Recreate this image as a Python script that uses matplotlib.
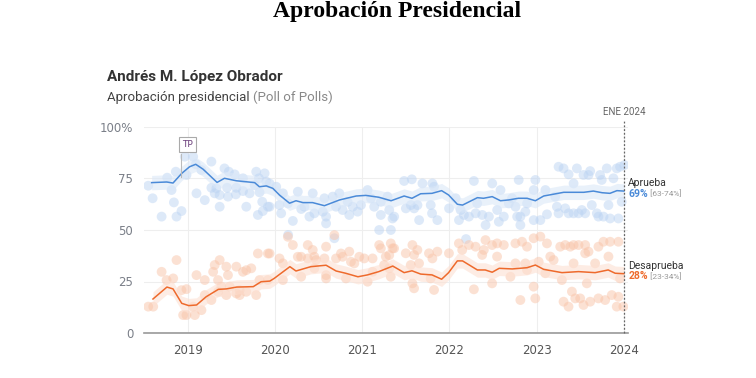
import matplotlib.pyplot as plt
import numpy as np

# trend lines (year, %)
ap_year = [2018.585, 2018.757, 2018.83, 2018.93, 2019.02, 2019.09, 2019.175, 2019.335, 2019.42,
           2019.556, 2019.766, 2019.82, 2019.9, 2019.975, 2020.05, 2020.166, 2020.24, 2020.32,
           2020.43, 2020.566, 2020.74, 2020.93, 2021.04, 2021.19, 2021.33, 2021.48, 2021.57,
           2021.67, 2021.80, 2021.91, 2021.99, 2022.09, 2022.15, 2022.32, 2022.39, 2022.49,
           2022.585, 2022.68, 2022.79, 2022.89, 2022.985, 2023.08, 2023.31, 2023.54, 2023.65,
           2023.75, 2023.84, 2023.92, 2024.0]
ap_val = [73.0, 73.3, 72.8, 77.5, 80.7, 81.9, 79.5, 73.1, 75.1,
          73.9, 73.0, 71.0, 71.4, 70.2, 67.0, 63.0, 64.2, 63.3,
          63.3, 61.8, 64.6, 66.5, 66.8, 65.9, 64.2, 66.5, 65.4,
          67.6, 67.8, 69.1, 67.0, 62.5, 62.1, 65.7, 65.4, 66.2,
          64.2, 64.6, 65.4, 65.4, 64.2, 66.5, 68.3, 68.3, 68.9,
          68.1, 67.8, 69.1, 68.9]

de_year = [2018.6, 2018.76, 2018.83, 2018.93, 2019.01, 2019.1, 2019.21, 2019.35, 2019.44,
           2019.56, 2019.75, 2019.84, 2019.94, 2019.99, 2020.17, 2020.24, 2020.41, 2020.585,
           2020.70, 2020.81, 2020.95, 2021.06, 2021.19, 2021.35, 2021.48, 2021.57, 2021.67,
           2021.80, 2021.91, 2021.99, 2022.09, 2022.15, 2022.32, 2022.41, 2022.49, 2022.57,
           2022.72, 2022.89, 2022.985, 2023.08, 2023.29, 2023.48, 2023.67, 2023.82, 2023.90,
           2024.0]
de_val = [16.5, 22.3, 21.4, 14.4, 13.3, 13.6, 17.6, 21.2, 21.4,
          22.3, 22.5, 24.9, 25.2, 26.5, 32.2, 30.1, 32.2, 32.9,
          30.1, 29.0, 27.3, 28.2, 29.8, 32.5, 29.3, 30.2, 28.6,
          28.2, 26.1, 29.3, 35.0, 35.0, 30.6, 30.6, 29.5, 31.4,
          31.1, 31.7, 33.0, 30.9, 29.3, 29.8, 29.3, 30.6, 29.0,
          28.8]

# individual polls
ap_poll_year = [2018.546, 2018.596, 2018.699, 2018.763, 2018.813, 2018.840, 2018.870, 2018.862, 2018.927,
                2018.965, 2018.984, 2019.061, 2019.099, 2019.091, 2019.156, 2019.194, 2019.27, 2019.27,
                2019.308, 2019.327, 2019.365, 2019.365, 2019.42, 2019.45, 2019.47, 2019.46, 2019.537,
                2019.556, 2019.55, 2019.632, 2019.632, 2019.67, 2019.708, 2019.765, 2019.784, 2019.815,
                2019.822, 2019.803, 2019.853, 2019.86, 2019.899, 2019.918,
                2019.88, 2019.937, 2020.013, 2020.09, 2019.937, 2020.05, 2020.07, 2020.147, 2020.204,
                2020.261, 2020.30, 2020.337, 2020.394, 2020.432, 2020.451, 2020.547, 2020.566, 2020.585,
                2020.585, 2020.661, 2020.699, 2020.737, 2020.775, 2020.832, 2020.851, 2020.89, 2020.947,
                2020.985, 2021.061, 2021.099, 2021.137, 2021.213, 2021.213, 2021.29, 2021.309, 2021.347,
                2021.194, 2021.328, 2020.15, 2020.68, 2022.19,
                2021.48, 2021.568, 2021.69, 2021.804, 2021.823, 2021.366, 2021.50, 2021.557,
                2021.595, 2021.633, 2021.652, 2021.785, 2021.80, 2021.861, 2021.995, 2022.071, 2022.109,
                2022.128, 2022.166, 2022.223, 2022.28, 2022.30, 2022.318, 2022.376, 2022.414, 2022.452,
                2022.49, 2022.547, 2022.566, 2022.585, 2022.623, 2022.68, 2022.718, 2022.757, 2022.776,
                2022.794, 2022.985, 2022.966, 2023.10, 2022.813, 2022.87, 2022.89, 2022.813, 2022.966,
                2023.042, 2023.118, 2023.213, 2023.232, 2023.251, 2023.308, 2023.327, 2023.251, 2023.366,
                2023.366, 2023.423, 2023.423, 2023.461, 2023.48, 2023.518, 2023.537, 2023.556, 2023.594,
                2023.613, 2023.632, 2023.69, 2023.708, 2023.727, 2023.746, 2023.766, 2023.804, 2023.823,
                2023.842, 2023.88, 2023.918, 2023.937, 2023.956, 2024.005, 2023.975]
ap_poll_val = [71.5, 65.4, 56.5, 75.4, 69.4, 63.4, 56.5, 78.3, 59.2,
               85.6, 76.7, 85.6, 67.8, 81.9, 79.1, 64.5, 83.2, 70.5,
               67.8, 70.2, 61.3, 67.0, 79.9, 70.5, 78.3, 66.2, 77.0,
               70.5, 67.3, 75.1, 68.9, 61.3, 67.8, 71.8, 78.3, 75.1,
               68.3, 57.3, 63.7, 59.2, 73.5, 61.3,
               77.5, 72.6, 71.0, 67.8, 61.3, 62.1, 58.1, 62.9, 54.4,
               68.6, 60.2, 61.3, 56.5, 67.8, 58.1, 58.9, 65.4, 53.2,
               56.5, 66.2, 61.3, 67.8, 59.7, 63.7, 57.3, 61.3, 58.9,
               62.1, 69.4, 65.4, 61.3, 63.7, 57.3, 66.2, 59.7, 55.6,
               50.0, 50.0, 47.6, 46.0, 45.6,
               73.8, 74.6, 72.6, 72.6, 71.0, 56.5, 60.5, 62.1,
               60.5, 62.1, 54.8, 62.1, 58.1, 54.8, 60.5, 65.4, 54.8,
               59.7, 57.3, 56.5, 73.8, 58.1, 62.9, 57.3, 52.4, 56.5,
               72.6, 59.7, 54.0, 69.4, 56.5, 62.9, 65.4, 61.3, 56.5,
               74.3, 74.3, 69.4, 69.4, 56.5, 58.9, 62.9, 52.4, 54.8,
               54.8, 57.6, 66.2, 61.3, 80.7, 79.9, 60.5, 58.1, 77.0,
               58.1, 72.6, 58.1, 79.9, 58.1, 59.7, 76.7, 58.1, 76.7,
               78.6, 62.1, 58.1, 56.5, 76.7, 74.3, 56.5, 79.9, 62.1,
               55.6, 75.1, 79.9, 55.6, 80.7, 81.5, 63.7]

de_poll_year = [2018.546, 2018.603, 2018.699, 2018.756, 2018.832, 2018.87, 2018.927, 2018.984, 2018.946,
                2018.984, 2019.08, 2019.099, 2019.06, 2019.156, 2019.194, 2019.194, 2019.27, 2019.29,
                2019.308, 2019.346, 2019.365, 2019.346, 2019.384, 2019.441, 2019.441, 2019.46, 2019.556,
                2019.556, 2019.48, 2019.594, 2019.594, 2019.632, 2019.67, 2019.67, 2019.727, 2019.784,
                2019.803, 2019.822, 2019.918, 2019.918,
                2019.937, 2020.051, 2020.09, 2020.09, 2020.147, 2020.204, 2020.261, 2020.299, 2020.299,
                2020.375, 2020.375, 2020.432, 2020.451, 2020.451, 2020.47, 2020.566, 2020.585, 2020.585,
                2020.585, 2020.68, 2020.699, 2020.756, 2020.775, 2020.813, 2020.851, 2020.87, 2020.909,
                2020.966, 2021.023, 2021.061, 2021.118, 2021.118, 2021.194, 2021.213, 2021.251, 2021.309,
                2021.309, 2021.347,
                2021.327, 2021.365, 2021.27, 2021.327, 2021.499, 2021.575, 2021.594, 2021.632, 2021.556,
                2021.575, 2021.651, 2021.594, 2021.765, 2021.804, 2021.784, 2021.823, 2021.861, 2021.994,
                2022.108, 2022.146, 2022.223, 2022.299, 2022.28, 2022.375, 2022.413, 2022.394, 2022.489,
                2022.546, 2022.623, 2022.546, 2022.489, 2022.756, 2022.832, 2022.889, 2022.965, 2023.042,
                2022.813, 2022.87, 2022.965, 2022.984, 2023.118, 2023.156, 2023.194, 2023.27, 2023.327,
                2023.385, 2023.423, 2023.48, 2023.556, 2023.289, 2023.308, 2023.365, 2023.404, 2023.442,
                2023.499, 2023.537, 2023.575, 2023.594, 2023.708, 2023.766, 2023.842, 2023.937, 2023.613,
                2023.708, 2023.785, 2023.823, 2023.861, 2023.918, 2023.937, 2023.994, 2023.956, 2022.756,
                2022.889, 2023.023, 2023.423, 2023.556, 2023.67, 2022.699, 2023.099]
de_poll_val = [12.8, 12.8, 29.7, 25.7, 26.5, 35.4, 20.8, 21.3, 8.7,
               8.7, 8.7, 28.1, 12.8, 11.1, 25.7, 18.4, 16.0, 29.7,
               33.0, 25.7, 35.4, 20.0, 22.5, 32.2, 18.4, 28.1, 32.2,
               19.2, 22.5, 20.8, 18.4, 29.7, 30.5, 20.0, 31.4, 18.4,
               38.6, 25.7, 38.6, 25.7,
               38.6, 36.2, 33.8, 25.7, 46.7, 42.7, 37.0, 37.0, 27.3,
               42.7, 36.2, 40.3, 37.0, 31.4, 35.4, 36.2, 41.9, 28.1,
               26.5, 47.5, 36.2, 38.6, 37.0, 26.5, 39.5, 34.6, 33.8,
               37.0, 36.2, 24.9, 36.2, 29.7, 42.7, 41.1, 33.0, 37.8,
               31.4, 41.1,
               43.5, 41.1, 37.1, 27.3, 38.7, 42.7, 37.9, 40.3, 33.0,
               24.1, 33.8, 21.7, 38.7, 36.2, 26.5, 20.9, 39.5, 38.7,
               43.5, 40.3, 42.7, 41.9, 21.2, 37.9, 45.1, 40.3, 42.7,
               43.5, 42.7, 37.1, 24.1, 43.5, 44.3, 41.9, 46.0, 46.8,
               16.0, 33.8, 22.5, 16.8, 43.5, 37.1, 35.4, 41.9, 42.7,
               41.9, 42.7, 42.7, 42.7, 25.7, 15.2, 12.8, 20.1, 16.8,
               16.8, 13.6, 24.1, 39.5, 41.9, 44.3, 44.3, 44.3, 15.2,
               16.8, 16.0, 37.1, 18.4, 12.8, 17.6, 12.8, 26.5, 33.8,
               30.6, 34.6, 33.8, 38.7, 33.8, 27.3, 29.0]

year_ticks = [2019, 2020, 2021, 2022, 2023, 2024]
y_ticks = [0, 25, 50, 75, 100]
y_tick_labels = ['0', '25', '50', '75', '100%']

blue = '#4a8ad8'
orange = '#ee6a2c'

fig = plt.figure(figsize=(7.56, 3.78), dpi=100)
ax = fig.add_axes([144.25 / 756, 45 / 378, 484 / 756, 206 / 378])

ax.scatter(ap_poll_year, ap_poll_val, s=50, color='#bcd4f3', alpha=0.5, edgecolors='none', zorder=2)
ax.scatter(de_poll_year, de_poll_val, s=50, color='#f9c4a9', alpha=0.5, edgecolors='none', zorder=2)

ap = np.array(ap_val)
de = np.array(de_val)
ax.fill_between(ap_year, ap - 3.5, ap + 3.5, color='#dbe8f8', alpha=0.6, lw=0, zorder=3)
ax.fill_between(de_year, de - 3.5, de + 3.5, color='#fde0d2', alpha=0.6, lw=0, zorder=3)
ax.plot(ap_year, ap, color=blue, lw=1.1, zorder=4)
ax.plot(de_year, de, color=orange, lw=1.1, zorder=4)

ax.set_xlim(2018.5, 2024.05)
ax.set_ylim(0, 100)
ax.set_xticks(year_ticks)
ax.set_xticklabels([str(y) for y in year_ticks])
ax.set_yticks(y_ticks)
ax.set_yticklabels(y_tick_labels)
ax.tick_params(length=0, labelsize=8.5, colors='#555', pad=8)
ax.tick_params(axis='y', labelcolor='#7a7f88', labelsize=8.5)
ax.grid(True, color='#eeeeee', lw=0.8, zorder=0)
for s in ['top', 'right', 'left']:
    ax.spines[s].set_visible(False)
ax.spines['bottom'].set_color('#999999')
ax.spines['bottom'].set_linewidth(1.2)

# last date marker
ax.plot([2024, 2024], [0, 103.5], color='#666', lw=0.9, ls=(0, (1.5, 1.5)), clip_on=False, zorder=5)
ax.text(2024, 105, 'ENE 2024', ha='center', va='bottom', fontsize=7, color='#666',
        family='Roboto')

# TP annotation
ax.plot([2018.92, 2018.92], [75.5, 87], color='#bbb', lw=0.8, zorder=5)
ax.text(2019.0, 91.5, 'TP', ha='center', va='center', fontsize=6.5, color='#6a3d7a',
        bbox=dict(boxstyle='square,pad=0.35', fc='white', ec='#aaa', lw=0.8), zorder=6)

# end labels
ax.text(2024.05, ap[-1] + 1.5, 'Aprueba', fontsize=7.5, color='#333', va='bottom', family='Roboto')
v1 = ax.text(2024.05, ap[-1] + 1.2, '69%', fontsize=7.5, color=blue, fontweight='bold', va='top',
             family='Roboto')
ax.annotate(' [63-74%]', xy=(1, 0.1), xycoords=v1, fontsize=6, color='#999', va='bottom',
            family='Roboto')
ax.text(2024.05, de[-1] + 1.5, 'Desaprueba', fontsize=7.5, color='#333', va='bottom', family='Roboto')
v2 = ax.text(2024.05, de[-1] + 1.2, '28%', fontsize=7.5, color=orange, fontweight='bold', va='top',
             family='Roboto')
ax.annotate(' [23-34%]', xy=(1, 0.1), xycoords=v2, fontsize=6, color='#999', va='bottom',
            family='Roboto')

# titles
fig.text(397 / 756, 1 - 12 / 378, 'Aprobación Presidencial', ha='center', va='center',
         fontsize=17, fontweight='bold', family='Liberation Serif')
fig.text(107 / 756, 1 - 77 / 378, 'Andrés M. López Obrador', ha='left', va='center',
         fontsize=11, fontweight='bold', color='#333', family='Roboto')
st = fig.text(107 / 756, 1 - 98 / 378, 'Aprobación presidencial ', ha='left', va='center',
              fontsize=9.5, color='#444', family='Roboto')
fig.add_artist(plt.Annotation('(Poll of Polls)', xy=(1, 0), xycoords=st, va='bottom',
                              fontsize=9.5, color='#888', family='Roboto'))

fig.savefig('out.png', dpi=100)
